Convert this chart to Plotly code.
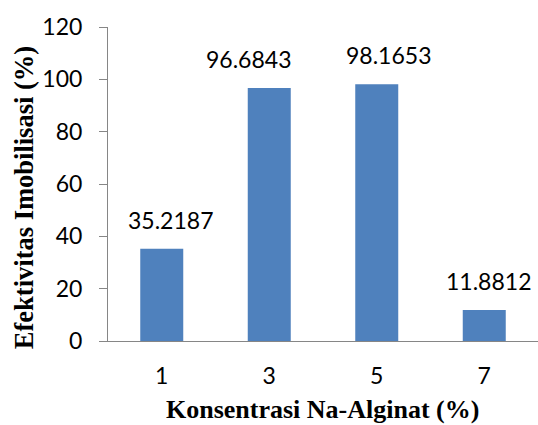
import plotly.graph_objects as go

categories = ["1", "3", "5", "7"]
values = [35.2187, 96.6843, 98.1653, 11.8812]
value_labels = ["35.2187", "96.6843", "98.1653", "11.8812"]
y_ticks = [0, 20, 40, 60, 80, 100, 120]
x_title = "Konsentrasi Na-Alginat (%)"
y_title = "Efektivitas Imobilisasi (%)"

label_xshift = [9, -21, 12, 4]

fig = go.Figure()
fig.add_trace(go.Bar(
    x=categories, y=values, width=0.4,
    marker=dict(color="#4F81BD", line=dict(width=0)),
    hoverinfo="skip",
))
# empty helper trace so that the tick-mark axis (y2) is drawn
fig.add_trace(go.Scatter(x=[], y=[], yaxis="y2", showlegend=False, hoverinfo="skip"))

for i, (v, t, dx) in enumerate(zip(values, value_labels, label_xshift)):
    fig.add_annotation(x=i, y=v, text=t, showarrow=False, yanchor="bottom",
                       yshift=13, xshift=dx,
                       font=dict(family="Lato", size=23, color="#000000"))

title_font = dict(family="Liberation Serif", size=26.5, color="#000000", weight="bold")
fig.add_annotation(xref="paper", yref="paper", x=0.4977, y=-0.2197, text=x_title,
                   showarrow=False, xanchor="center", yanchor="middle",
                   font=dict(family="Liberation Serif", size=26, color="#000000", weight="bold"))
fig.add_annotation(xref="paper", yref="paper", x=-0.1953, y=0.455, text=y_title,
                   showarrow=False, xanchor="center", yanchor="middle", textangle=-90,
                   font=title_font)

axis_color = "#868686"
fig.update_layout(
    width=538, height=425,
    margin=dict(l=108, r=0, t=27, b=84, autoexpand=False),
    plot_bgcolor="white", paper_bgcolor="white",
    showlegend=False,
    bargap=0.6,
    xaxis=dict(
        type="category", range=[-0.5, 3.5],
        showline=True, linecolor=axis_color, linewidth=1,
        ticks="", showgrid=False, zeroline=False,
        tickfont=dict(family="Lato", size=23, color="#000000"),
        ticklabelstandoff=14,
        automargin=False,
    ),
    yaxis=dict(
        range=[0, 120], tickvals=y_ticks,
        showline=False,
        ticks="outside", ticklen=20, tickcolor="rgba(0,0,0,0)",
        showgrid=False, zeroline=False,
        tickfont=dict(family="Lato", size=23, color="#000000"),
        automargin=False,
    ),
    yaxis2=dict(
        overlaying="y", side="left", range=[0, 120], tickvals=y_ticks,
        showline=True, linecolor=axis_color, linewidth=1,
        ticks="outside", ticklen=8, tickcolor=axis_color, tickwidth=1,
        showticklabels=False, showgrid=False, zeroline=False,
        automargin=False,
    ),
)

fig.write_html("out.html", config={"displayModeBar": False},
               post_script="document.body.style.margin='0';")
